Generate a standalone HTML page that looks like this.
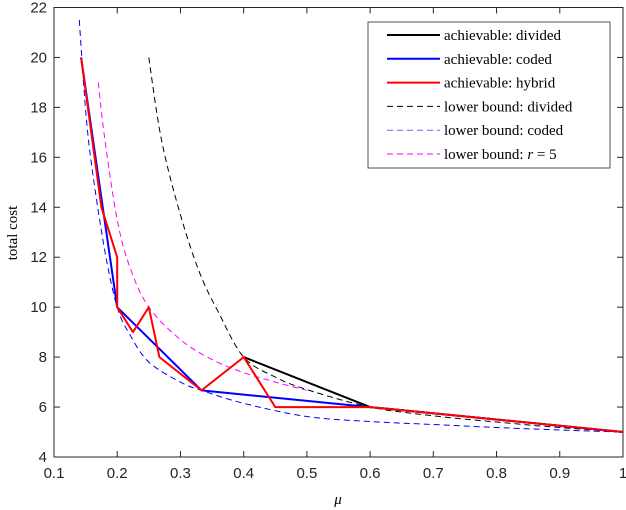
<!DOCTYPE html>
<html><head><meta charset="utf-8">
<style>
body{margin:0;background:#fff;}
svg{display:block;font-family:"Liberation Sans",sans-serif;}
.tk{font-size:15px;fill:#262626;}
.lg{font-family:"Liberation Serif",serif;font-size:15px;fill:#000;}
</style></head><body>
<svg id="chart" width="626" height="510">
<rect x="0" y="0" width="626" height="510" fill="#fff"/>
<g id="plot"></g>
<g id="axes"></g>
<text x="338" y="504" class="lg" font-size="17" font-style="italic" text-anchor="middle">μ</text>
<text transform="translate(17,233) rotate(-90)" class="lg" font-size="16" text-anchor="middle">total cost</text>
<g>
<rect x="368" y="22" width="242" height="146" fill="#fff" stroke="#262626" stroke-width="0.8"/>
<g id="legend-items"></g>
</g>
</svg>
<script>
const xTicks=[0.1,0.2,0.3,0.4,0.5,0.6,0.7,0.8,0.9,1];
const xTickLabels=["0.1","0.2","0.3","0.4","0.5","0.6","0.7","0.8","0.9","1"];
const yTicks=[4,6,8,10,12,14,16,18,20,22];
const divX=[0.4,0.6,1];
const divY=[8,6,5];
const codX=[1/7,0.2,1/3,0.6,1];
const codY=[20,10,6.667,6,5];
const hybX=[1/7,0.175,0.2,0.2,0.225,0.25,0.2667,1/3,0.4,0.45,0.6,1];
const hybY=[20,14,12,10,9,10,8,6.667,8,6,6,5];
const lbDivX=[0.25,0.27,0.3,0.33,0.36,0.4,0.45,0.5,0.6,0.7,0.8,0.9,1];
const lbDivY=[20,16.7,13.7,11.4,9.8,8,7.2,6.7,6.0,5.65,5.4,5.18,5];
const lbCodX=[0.14,0.15,0.16,0.18,0.2,0.22,0.25,0.3,1/3,0.4,0.5,0.6,0.7,0.8,0.9,1];
const lbCodY=[21.5,17.9,15.6,12.3,10,8.9,7.8,7.0,6.667,6.15,5.62,5.42,5.3,5.18,5.08,5];
const lbRX=[0.17,0.18,0.2,0.22,0.25,0.3,0.35,0.4,0.45,0.5];
const lbRY=[19,16.8,13.5,11.6,10,8.7,7.9,7.38,7.0,6.67];

const X0=54,X1=623,Y0=457,Y1=7.5;
const sx=v=>X0+(v-0.1)/(1-0.1)*(X1-X0);
const sy=v=>Y0-(v-4)/(22-4)*(Y0-Y1);
const NS="http://www.w3.org/2000/svg";
const plot=document.getElementById('plot');
const axes=document.getElementById('axes');
function mk(t,a,p){const e=document.createElementNS(NS,t);for(const k in a)e.setAttribute(k,a[k]);p.appendChild(e);return e;}
function line(xs,ys,color,dash,name,w){
  const pts=xs.map((x,i)=>sx(x).toFixed(1)+","+sy(ys[i]).toFixed(1)).join(" ");
  const e=mk('polyline',{points:pts,fill:'none',stroke:color,'stroke-width':w,'stroke-dasharray':dash||'none','stroke-linejoin':'round'},plot);
  
  
}
function curve(xs,ys,color,name){
  const P=xs.map((x,i)=>[sx(x),sy(ys[i])]);
  let d='M'+P[0][0].toFixed(1)+','+P[0][1].toFixed(1);
  for(let i=0;i<P.length-1;i++){
    const p0=P[Math.max(0,i-1)],p1=P[i],p2=P[i+1],p3=P[Math.min(P.length-1,i+2)];
    const c1=[p1[0]+(p2[0]-p0[0])/6,p1[1]+(p2[1]-p0[1])/6];
    const c2=[p2[0]-(p3[0]-p1[0])/6,p2[1]-(p3[1]-p1[1])/6];
    d+=' C'+c1.map(v=>v.toFixed(1)).join(',')+' '+c2.map(v=>v.toFixed(1)).join(',')+' '+p2.map(v=>v.toFixed(1)).join(',');
  }
  const e=mk('path',{d:d,fill:'none',stroke:color,'stroke-width':1,'stroke-dasharray':'6,4'},plot);
  
  
}
curve(lbCodX,lbCodY,'#0000ff','lower-bound-coded');
curve(lbRX,lbRY,'#ff00ff','lower-bound-r5');
curve(lbDivX,lbDivY,'#000','lower-bound-divided');
line(divX,divY,'#000','','achievable-divided',2);
line(codX,codY,'#0000ff','','achievable-coded',2);
line(hybX,hybY,'#ff0000','','achievable-hybrid',2);
mk('rect',{x:X0,y:Y1,width:X1-X0,height:Y0-Y1,fill:'none',stroke:'#262626','stroke-width':1},axes);
xTicks.forEach((t,i)=>{
  mk('line',{x1:sx(t),x2:sx(t),y1:Y0,y2:Y0-6,stroke:'#262626'},axes);
  mk('line',{x1:sx(t),x2:sx(t),y1:Y1,y2:Y1+6,stroke:'#262626'},axes);
  const tx=mk('text',{x:sx(t),y:Y0+21,'text-anchor':'middle',class:'tk'},axes);
  tx.textContent=xTickLabels[i];
  
  
});
yTicks.forEach(t=>{
  mk('line',{x1:X0,x2:X0+6,y1:sy(t),y2:sy(t),stroke:'#262626'},axes);
  mk('line',{x1:X1,x2:X1-6,y1:sy(t),y2:sy(t),stroke:'#262626'},axes);
  const tx=mk('text',{x:X0-7,y:sy(t)+5,'text-anchor':'end',class:'tk'},axes);
  tx.textContent=String(t);
  
  
});
const lgLabels=["achievable: divided","achievable: coded","achievable: hybrid","lower bound: divided","lower bound: coded","lower bound: r5"];
const lgColors=['#000','#0000ff','#ff0000','#000','#6666ff','#ff00ff'];
const lgDash=['','','','6,4','6,4','6,4'];
const lg=document.getElementById('legend-items');
lgLabels.forEach((l,i)=>{
  const y=35+i*23.8;
  mk('line',{x1:387,x2:440,y1:y,y2:y,stroke:lgColors[i],'stroke-width':i<3?2:1,'stroke-dasharray':lgDash[i]||'none'},lg);
  const t=mk('text',{x:444,y:y+5,class:'lg'},lg);
  if(i===5){t.innerHTML='lower bound: <tspan font-style="italic">r</tspan> = 5';}
  else t.textContent=l;
  
  
});
</script>
</body></html>
